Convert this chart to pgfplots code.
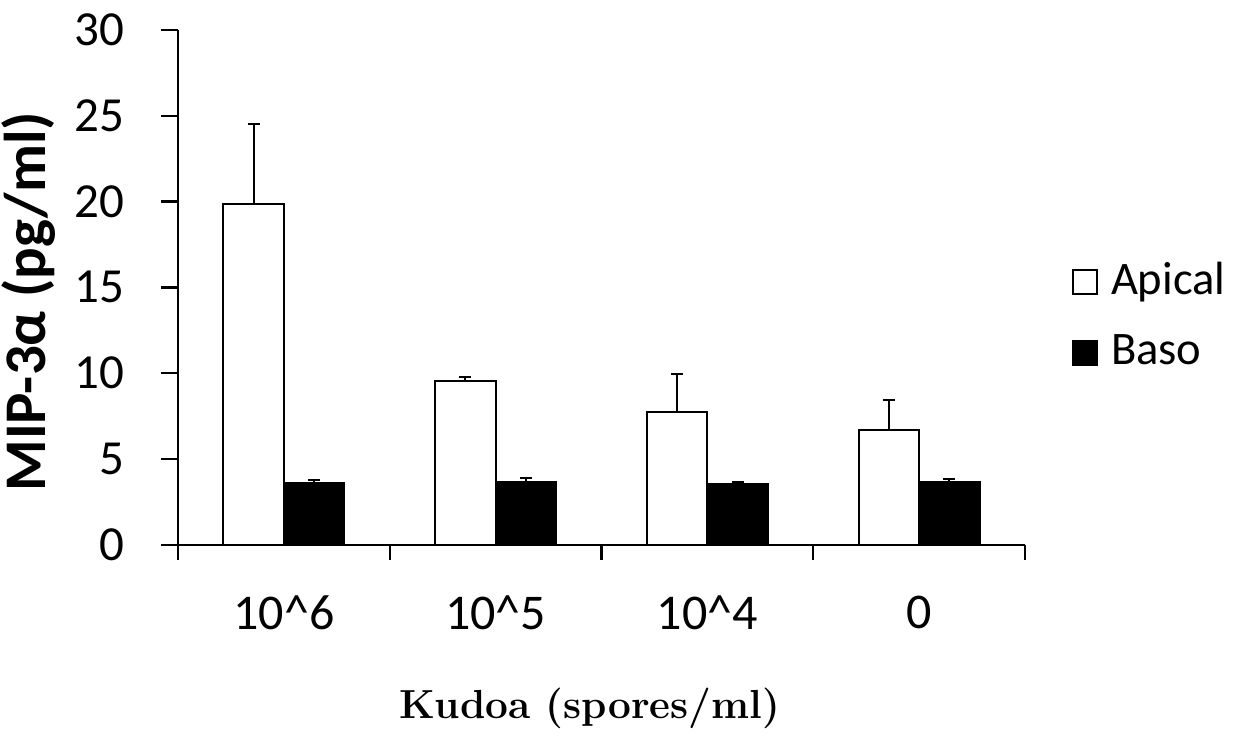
\documentclass[border=0pt]{standalone}
\usepackage{fontspec}
\newfontfamily\calibri{Carlito}
\usepackage{pgfplots}
\pgfplotsset{compat=1.18}

% bars sit at their own x (category -/+ 0.143), so error bars land in the middle
\pgfplotsset{
  boxlegend/.style={legend image code/.code={\draw[##1, line width=0.8pt] (0pt,-6pt) rectangle (12pt,6pt);}},
  errstyle/.style={error bars/.cd, y dir=plus, y explicit,
    error mark=-,
    error bar style={line width=1pt, black},
    error mark options={rotate=90, line width=1pt, mark size=3pt, black}},
}

\begin{document}
\begin{tikzpicture}
\useasboundingbox (-89pt,-95.15pt) rectangle (532pt,272.35pt);
\begin{axis}[
  at={(0,0)}, anchor=south west,
  scale only axis, width=423.5pt, height=257.4pt,
  ymin=0, ymax=30, ytick={0,5,...,30},
  xmin=-0.5, xmax=3.5,
  xtick={0,1,2,3},
  xticklabels={10\textasciicircum 6, 10\textasciicircum 5, 10\textasciicircum 4, 0},
  minor xtick={-0.5,0.5,1.5,2.5,3.5},
  major x tick style={draw=none},
  axis x line*=bottom, axis y line*=left,
  tick align=outside,
  major tick length=8.5pt, minor tick length=7.5pt,
  tick style={black, line width=1.2pt},
  axis line style={black, line width=1.2pt},
  /pgf/number format/assume math mode=true,
  yticklabel style={font=\calibri\fontsize{24.5}{28}\selectfont, inner sep=0pt, anchor=east, xshift=-18pt},
  xticklabel style={font=\calibri\fontsize{25}{30}\selectfont, inner sep=0pt, anchor=north, yshift=-17pt},
  ylabel={\calibri\bfseries MIP-3α (pg/ml)},
  ylabel style={at={(axis description cs:-0.156,0.472)}, anchor=base, rotate=0, font=\fontsize{29.5}{34}\selectfont, inner sep=0pt},
  xlabel={Kudoa (spores/ml)},
  xlabel style={at={(axis description cs:0.486,-0.277)}, anchor=north, font=\rmfamily\bfseries\fontsize{20.3}{25}\selectfont, inner sep=0pt},
  legend style={at={(1.0555,0.4413)}, anchor=west, draw=none, fill=none, inner sep=0pt,
    font=\calibri\fontsize{23.3}{28}\selectfont, row sep=22.5pt,
    nodes={inner sep=0pt, text height=12pt, text depth=0pt},
    /tikz/every odd column/.append style={column sep=6.5pt}},
  legend cell align=left,
]
\addplot[ybar, bar width=0.2857, bar shift=0pt, fill=white, draw=black, line width=1pt, boxlegend, errstyle]
coordinates {
  (-0.143,19.88) +- (0,4.64)
  (0.857,9.56) +- (0,0.19)
  (1.857,7.71) +- (0,2.22)
  (2.857,6.70) +- (0,1.73)
};
\addlegendentry{Apical}
\addplot[ybar, bar width=0.2857, bar shift=0pt, fill=black, draw=black, line width=1pt, boxlegend, errstyle]
coordinates {
  (0.143,3.57) +- (0,0.20)
  (1.143,3.63) +- (0,0.28)
  (2.143,3.54) +- (0,0.11)
  (3.143,3.63) +- (0,0.22)
};
\addlegendentry{Baso}
\end{axis}
\end{tikzpicture}
\end{document}
